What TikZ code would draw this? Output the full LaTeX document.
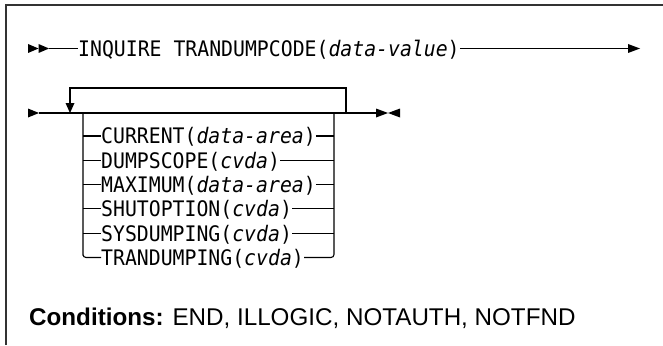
\documentclass[tikz,border=0pt]{standalone}
\usepackage{fontspec}
\usepackage{graphicx}
\setmainfont{Liberation Sans}
\newfontfamily\monofont{DejaVu Sans Mono}
\newcommand{\mtext}[1]{\scalebox{1}[1.08]{#1}}
\begin{document}
\begin{tikzpicture}[x=1pt,y=-1pt,
  rail/.style={line width=1.1pt,black},
  frame/.style={line width=1.3pt,black!80},
  mono/.style={font=\monofont\fontsize{19.8}{22}\selectfont,inner sep=0pt,anchor=base west},
  cond/.style={font=\fontsize{24.2}{28}\selectfont,inner sep=0pt,anchor=base west},
  tip/.style={fill=black}]
\useasboundingbox (0,0) rectangle (663,345);
% frame
\draw[frame] (6,345) -- (6,5) -- (663,5);
% ---- row 1
\coordinate (r1s) at (28,48.5);
\coordinate (r1a) at (49,48.5);
\coordinate (r1end) at (628,48.5);
\coordinate (r1tip) at (640,48.5);
\node[mono] (t1) at (78,56.3) {\mtext{INQUIRE TRANDUMPCODE(\textit{data-value})}};
\fill[tip] (r1s) ++(0,-4.5) -- ++(10.5,4.5) -- ++(-10.5,4.5) -- cycle;
\fill[tip] (r1s) ++(10.5,-4.5) -- ++(10.5,4.5) -- ++(-10.5,4.5) -- cycle;
\draw[rail] (r1a) -- (r1a -| t1.west);
\draw[rail] (t1.east |- r1a) -- (r1end);
\fill[tip] (r1end) ++(0,-4.5) -- (r1tip) -- ++(-12,4.5) -- cycle;
% ---- row 2 main line
\coordinate (m0) at (28,113);
\coordinate (m1) at (39,113);
\coordinate (lp) at (70,113);
\coordinate (sl) at (83,113);
\coordinate (sr) at (334,113);
\coordinate (lr) at (346,113);
\coordinate (mend) at (376,113);
\coordinate (mmid) at (388,113);
\coordinate (mfin) at (400,113);
\coordinate (ltop) at (70,88);
\coordinate (lhead) at (70,103);
\fill[tip] (m0) ++(0,-4.5) -- (m1) -- ++(-11,4.5) -- cycle;
\draw[rail] (m1) -- (mend);
\draw[rail] (lr) |- (ltop) -- (lhead);
\fill[tip] (lhead) ++(-4.5,0) -- (lp) -- ++(4.5,-10) -- cycle;
\fill[tip] (mend) ++(0,-4.5) -- (mmid) -- ++(-12,4.5) -- cycle;
\fill[tip] (mfin) ++(0,-4.5) -- (mmid) -- ++(12,4.5) -- cycle;
% ---- stack
\node[mono] (t2) at (101,143.8) {\mtext{CURRENT(\textit{data-area})}};
\node[mono] (t3) at (101,168.1) {\mtext{DUMPSCOPE(\textit{cvda})}};
\node[mono] (t4) at (101,192.4) {\mtext{MAXIMUM(\textit{data-area})}};
\node[mono] (t5) at (101,216.7) {\mtext{SHUTOPTION(\textit{cvda})}};
\node[mono] (t6) at (101,241.0) {\mtext{SYSDUMPING(\textit{cvda})}};
\node[mono] (t7) at (101,265.3) {\mtext{TRANDUMPING(\textit{cvda})}};
\coordinate (y2) at (83,136);
\coordinate (y3) at (83,160.3);
\coordinate (y4) at (83,184.6);
\coordinate (y5) at (83,208.9);
\coordinate (y6) at (83,233.2);
\coordinate (y7) at (83,257.5);
\draw[rail,rounded corners=3pt] (sl) |- (y7) -- (t7.west |- y7);
\draw[rail,rounded corners=3pt] (t7.east |- y7) -| (sr);
\foreach \r in {2,...,6}{
  \draw[rail] (y\r) -- (t\r.west |- y\r);
  \draw[rail] (t\r.east |- y\r) -- (sr |- y\r);
}
% ---- conditions
\node[cond] (c) at (29,325.5) {\textbf{Conditions:} END, ILLOGIC, NOTAUTH, NOTFND};
\end{tikzpicture}
\end{document}
